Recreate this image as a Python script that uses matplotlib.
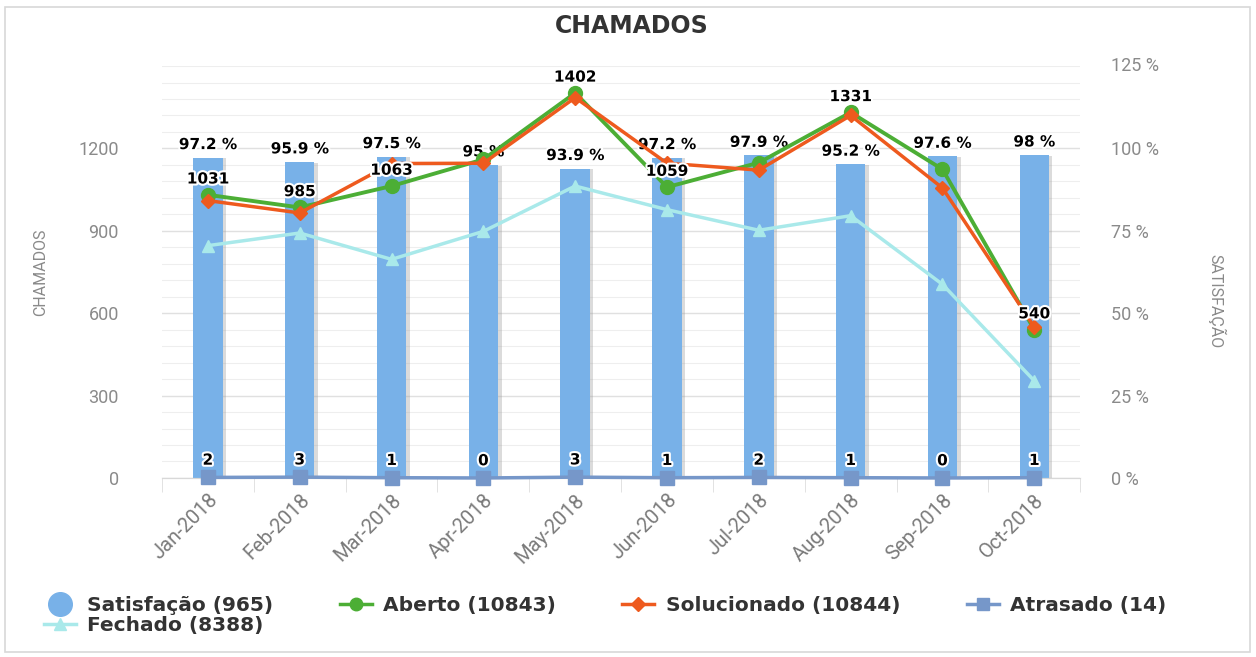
import matplotlib.pyplot as plt
import matplotlib.patheffects as pe
from matplotlib.patches import Rectangle
from matplotlib.ticker import MultipleLocator

meses = ['Jan-2018', 'Feb-2018', 'Mar-2018', 'Apr-2018', 'May-2018',
         'Jun-2018', 'Jul-2018', 'Aug-2018', 'Sep-2018', 'Oct-2018']
satisfacao = [97.2, 95.9, 97.5, 95, 93.9, 97.2, 97.9, 95.2, 97.6, 98]
aberto = [1031, 985, 1063, 1160, 1402, 1059, 1148, 1331, 1124, 540]
solucionado = [1010, 965, 1145, 1146, 1385, 1146, 1121, 1320, 1056, 550]
fechado = [846, 892, 796, 898, 1063, 977, 902, 955, 705, 354]
atrasado = [2, 3, 1, 0, 3, 1, 2, 1, 0, 1]
# which Aberto points get a value label
aberto_rotulo = [True, True, True, False, True, True, False, True, False, True]

c_bar = '#78b1e8'
c_verde = '#4cae35'
c_laranja = '#ee5a1e'
c_ciano = '#a9e9ea'
c_atraso = '#7697c9'
c_tick = '#8a8a8a'

plt.rcParams['font.family'] = ['Roboto', 'DejaVu Sans']
negrito = {'family': 'DejaVu Sans', 'weight': 'bold'}
contorno = [pe.withStroke(linewidth=3, foreground='white')]

fig = plt.figure(figsize=(12.56, 6.57), dpi=100)
fig.patches.append(Rectangle((0.004, 0.008), 0.991, 0.982, transform=fig.transFigure,
                             fill=False, edgecolor='#d8d8d8', lw=1.2))

# ax2 (satisfaction, bars + grid) sits behind ax (counts, lines)
ax = fig.add_axes([0.129, 0.2725, 0.731, 0.627])
ax2 = ax.twinx()
ax2.set_zorder(ax.get_zorder() - 1)
ax.patch.set_visible(False)
x = list(range(len(meses)))

ax2.bar(x, satisfacao, width=0.32, color=c_bar, zorder=2,
        path_effects=[pe.SimplePatchShadow(offset=(2.5, -0.5), shadow_rgbFace='#999999', alpha=0.35),
                      pe.Normal()])
for i, v in enumerate(satisfacao):
    ax2.annotate(f'{v:g} %', (i, v), xytext=(0, 4), textcoords='offset points',
                 ha='center', va='bottom', fontsize=11, color='black', **negrito,
                 path_effects=contorno, zorder=6)

ax2.set_xlim(-0.5, len(meses) - 0.5)
ax2.set_ylim(0, 125)
ax2.set_yticks([0, 25, 50, 75, 100])
ax2.set_yticklabels([f'{t} %' for t in [0, 25, 50, 75, 100]])
ax2.yaxis.set_minor_locator(MultipleLocator(5))
ax2.set_xticks([i - 0.5 for i in range(len(meses) + 1)], minor=True)
ax2.tick_params(axis='y', which='both', length=0, labelsize=13, labelcolor=c_tick, pad=22)
ax2.annotate('125 %', (1.0, 125), xycoords=ax2.get_yaxis_transform(), xytext=(22, 0),
             textcoords='offset points', fontsize=13, color=c_tick, va='center', ha='left')
ax2.set_ylabel('SATISFAÇÃO', rotation=270, fontsize=11.5, color=c_tick, labelpad=48)
ax2.yaxis.label.set_y(0.43)
ax2.set_axisbelow(True)
ax2.grid(True, which='minor', axis='x', color='#e0e0e0', lw=1)
ax2.grid(True, which='major', axis='y', color='#e0e0e0', lw=1)
ax2.grid(True, which='minor', axis='y', color='#eeeeee', lw=0.8)

ax.plot(x, fechado, color=c_ciano, lw=2.5, marker='^', ms=9, zorder=3)
ax.plot(x, aberto, color=c_verde, lw=2.8, marker='o', ms=10, zorder=4)
ax.plot(x, solucionado, color=c_laranja, lw=2.5, marker='D', ms=7, zorder=5)
ax.plot(x, atrasado, color=c_atraso, lw=2.5, marker='s', ms=10, zorder=5, clip_on=False)

for i, v in enumerate(aberto):
    if aberto_rotulo[i]:
        ax.annotate(str(v), (i, v), xytext=(0, 6), textcoords='offset points',
                    ha='center', va='bottom', fontsize=11, color='black', **negrito,
                    path_effects=contorno, zorder=7)
for i, v in enumerate(atrasado):
    ax.annotate(str(v), (i, v), xytext=(0, 7), textcoords='offset points',
                ha='center', va='bottom', fontsize=11, color='black', **negrito,
                path_effects=contorno, zorder=7)

ax.set_xlim(-0.5, len(meses) - 0.5)
ax.set_ylim(0, 1500)
ax.set_yticks([0, 300, 600, 900, 1200])
ax.set_xticks(x)
ax.set_xticklabels(meses, rotation=45, ha='right', rotation_mode='anchor',
                   fontsize=14.5, color='#7a7a7a')
ax.set_xticks([i - 0.5 for i in range(len(meses) + 1)], minor=True)
ax.tick_params(axis='x', which='major', length=0, pad=9)
ax.tick_params(axis='x', which='minor', length=10, color='#dddddd')
ax.tick_params(axis='y', which='both', length=0, labelsize=13, labelcolor=c_tick, pad=31)
ax.set_ylabel('CHAMADOS', fontsize=11.5, color=c_tick, labelpad=22)

for a in (ax, ax2):
    for s in ['top', 'right', 'left']:
        a.spines[s].set_visible(False)
    a.spines['bottom'].set_color('#d8d8d8')

fig.suptitle('CHAMADOS', x=0.503, y=0.978, fontsize=17, color='#333333', **negrito)

h_sat = plt.Line2D([], [], ls='none', marker='o', ms=17, color=c_bar)
h_fec = plt.Line2D([], [], color=c_ciano, lw=2.5, marker='^', ms=9)
h_abe = plt.Line2D([], [], color=c_verde, lw=2.5, marker='o', ms=9)
h_sol = plt.Line2D([], [], color=c_laranja, lw=2.5, marker='D', ms=7)
h_atr = plt.Line2D([], [], color=c_atraso, lw=2.5, marker='s', ms=9)
fig.legend([h_sat, h_fec, h_abe, h_sol, h_atr],
           ['Satisfação (965)', 'Fechado (8388)', 'Aberto (10843)',
            'Solucionado (10844)', 'Atrasado (14)'],
           ncol=4, loc='upper left', bbox_to_anchor=(0.022, 0.118), frameon=False,
           prop={'size': 14.5, 'family': 'DejaVu Sans', 'weight': 'bold'},
           handlelength=1.6, handletextpad=0.55, columnspacing=3.3, labelspacing=0.05,
           labelcolor='#333333', borderpad=0.3)

fig.savefig('out.png', dpi=100)
